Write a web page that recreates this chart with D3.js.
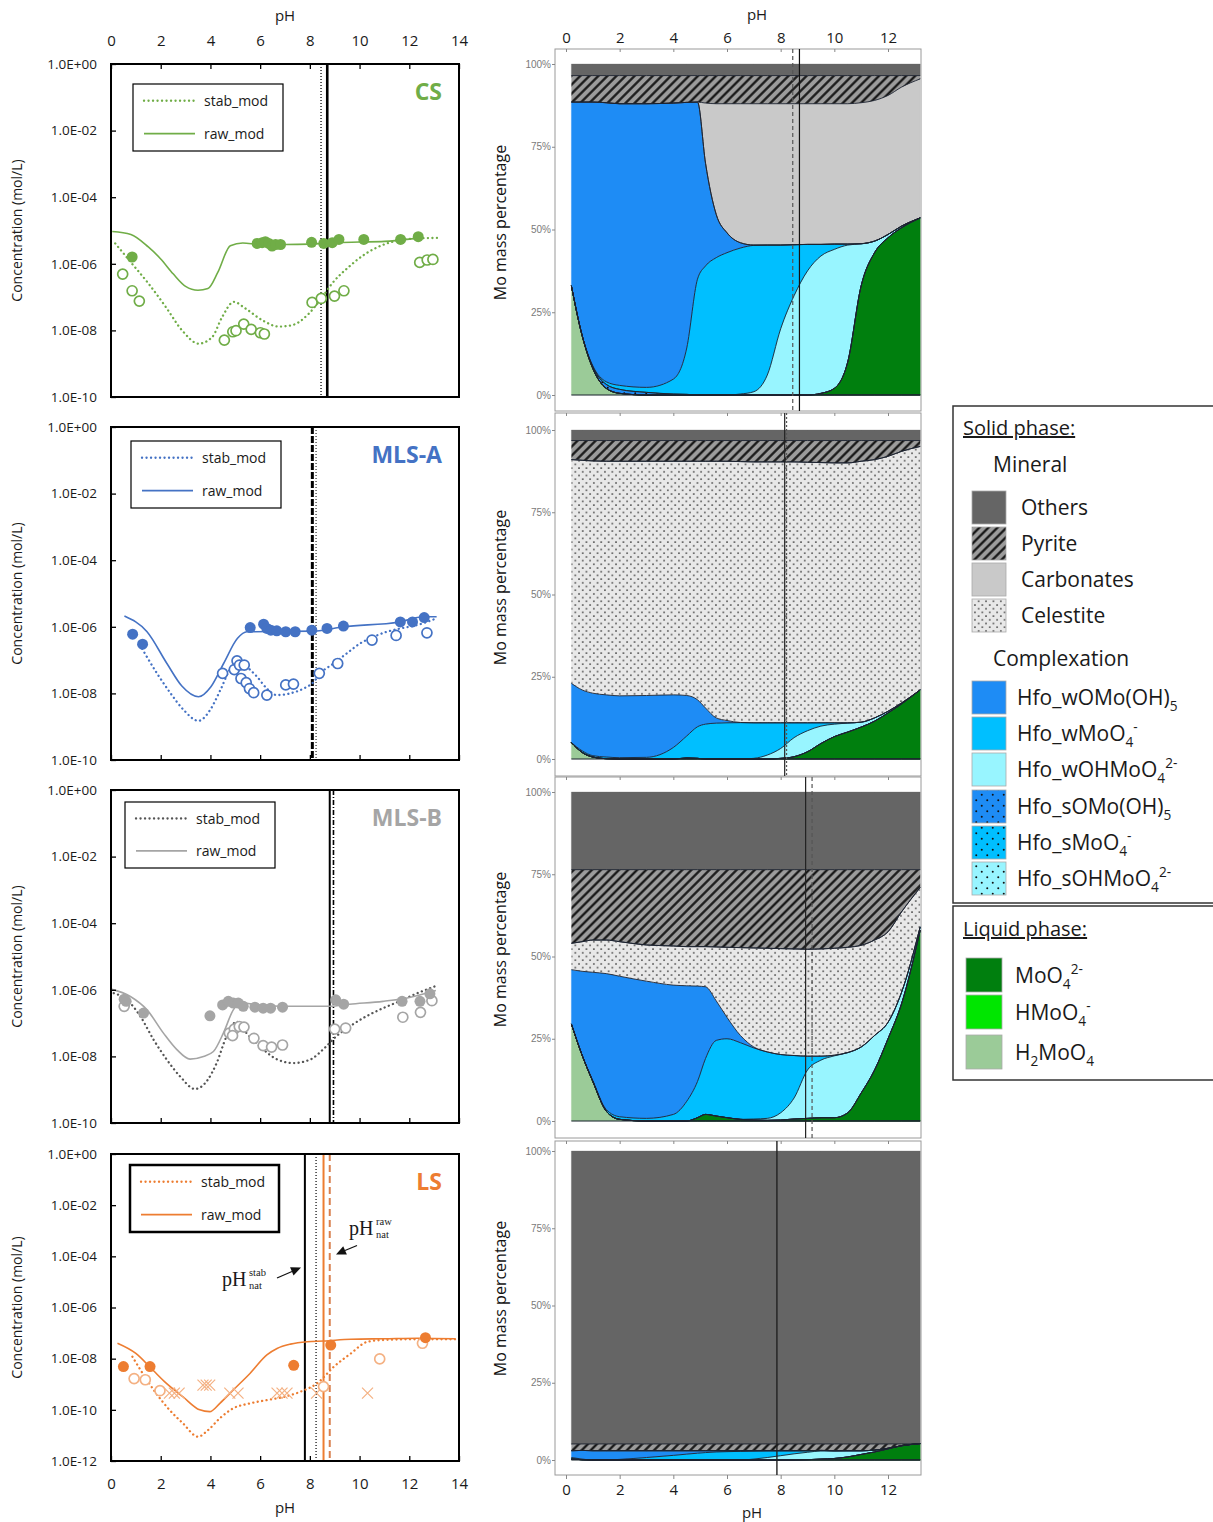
<!DOCTYPE html>
<html><head><meta charset="utf-8">
<script src="https://cdn.jsdelivr.net/npm/d3@7"></script>
<style>body{margin:0;background:#fff;} svg{display:block;font-family:"Open Sans",sans-serif;}</style>
</head><body><svg id="c" width="1213" height="1522"></svg>
<script>
// ================= LEFT PANELS: concentration vs pH ([pH, mol/L]) =================
const csRaw = [[0.05,9.3e-6],[0.8,7.6e-6],[1.5,3.2e-6],[2.0,1.4e-6],[2.5,5.0e-7],[3.0,2.1e-7],[3.5,1.6e-7],[3.9,1.8e-7],[4.3,5.6e-7],[4.8,3.5e-6],[5.3,4.2e-6],[6,3.8e-6],[7,3.8e-6],[8,3.9e-6],[9,4.3e-6],[10,4.5e-6],[11,4.7e-6],[12,5.5e-6],[12.4,6.0e-6]];
const csStab = [[0.17,4.1e-6],[0.85,1.0e-6],[1.5,2.6e-7],[2.2,5.1e-8],[2.86,1.0e-8],[3.53,4.0e-9],[4.07,6.3e-9],[4.47,2.5e-8],[4.94,7.2e-8],[5.4,4.6e-8],[6.1,2.0e-8],[6.75,1.3e-8],[7.3,1.45e-8],[7.96,3.2e-8],[8.5,1.0e-7],[8.9,2.6e-7],[9.57,8.1e-7],[10.24,2.0e-6],[10.9,3.6e-6],[11.6,5.1e-6],[12.25,5.75e-6],[13.26,6.0e-6]];
const csFilled = [[0.85,1.6e-6],[5.88,4.1e-6],[6.08,4.3e-6],[6.21,4.6e-6],[6.35,4.1e-6],[6.48,3.4e-6],[6.62,3.8e-6],[6.82,3.8e-6],[8.07,4.4e-6],[8.56,4.1e-6],[8.9,4.3e-6],[9.17,5.4e-6],[10.17,5.4e-6],[11.65,5.4e-6],[12.36,6.5e-6]];
const csOpen = [[0.47,4.9e-7],[0.85,1.55e-7],[1.14,7.6e-8],[4.56,5.1e-9],[4.9,9.1e-9],[5.03,9.8e-9],[5.34,1.55e-8],[5.64,1.07e-8],[6.01,8.5e-9],[6.17,7.8e-9],[8.09,6.9e-8],[8.46,9.1e-8],[8.99,1.07e-7],[9.37,1.55e-7],[12.42,1.1e-6],[12.72,1.3e-6],[12.95,1.35e-6]];
const csNat = [8.45, 8.7];

const maRaw = [[0.54,2.1e-6],[1.45,7.1e-7],[2.25,7.9e-8],[2.85,1.66e-8],[3.52,7.9e-9],[4.02,1.58e-8],[4.53,7.9e-8],[5.09,4.5e-7],[5.47,7.1e-7],[8.15,7.4e-7],[9.35,1.0e-6],[11.6,1.4e-6],[12.57,2.0e-6],[13.1,2.0e-6]];
const maStab = [[1.25,2.2e-7],[1.85,4.0e-8],[2.4,1.0e-8],[2.92,3.2e-9],[3.52,1.5e-9],[3.99,3.2e-9],[4.4,1.26e-8],[4.8,5.6e-8],[5.13,1.12e-7],[5.47,6.3e-8],[5.87,3.2e-8],[6.27,1.4e-8],[6.67,8.9e-9],[7.2,1.0e-8],[7.75,1.4e-8],[8.15,2.2e-8],[8.42,4.0e-8],[8.95,7.9e-8],[9.49,1.6e-7],[10.03,3.2e-7],[10.56,5.0e-7],[11.1,7.1e-7],[11.64,8.9e-7],[12.3,1.12e-6],[13.1,1.8e-6]];
const maFilled = [[0.87,6.0e-7],[1.27,3.0e-7],[5.6,9.5e-7],[6.14,1.2e-6],[6.27,8.9e-7],[6.43,7.9e-7],[6.67,7.6e-7],[7.03,7.1e-7],[7.41,7.1e-7],[8.08,7.9e-7],[8.69,8.9e-7],[9.35,1.05e-6],[11.64,1.4e-6],[12.13,1.4e-6],[12.6,1.9e-6]];
const maOpen = [[4.49,4.0e-8],[4.96,5.2e-8],[5.07,9.5e-8],[5.17,7.1e-8],[5.36,7.1e-8],[5.23,2.8e-8],[5.44,2.1e-8],[5.57,1.4e-8],[5.74,1.05e-8],[6.27,8.9e-9],[7.03,1.8e-8],[7.34,1.9e-8],[8.38,4.0e-8],[9.12,7.9e-8],[10.5,4.0e-7],[11.47,5.5e-7],[12.71,6.6e-7]];
const maNat = [8.1, 8.25];

const mbRaw = [[0,1.05e-6],[0.78,6.3e-7],[1.45,2.5e-7],[2.11,5.0e-8],[2.65,1.6e-8],[3.18,8.3e-9],[3.72,1.0e-8],[4.12,1.4e-8],[4.52,5.0e-8],[4.92,2.5e-7],[5.19,4.0e-7],[5.99,3.5e-7],[6.93,3.2e-7],[8.26,3.2e-7],[8.8,3.2e-7],[9.6,3.7e-7],[10.94,4.5e-7],[11.87,5.6e-7],[13.07,9.5e-7]];
const mbStab = [[0.11,7.9e-7],[0.64,5.0e-7],[1.18,1.6e-7],[1.71,3.2e-8],[2.25,7.9e-9],[2.78,2.5e-9],[3.38,1.05e-9],[3.85,1.8e-9],[4.25,6.3e-9],[4.65,4.0e-8],[5.05,1.1e-7],[5.45,5.0e-8],[5.99,2.0e-8],[6.66,8.3e-9],[7.33,6.3e-9],[7.99,7.9e-9],[8.66,2.0e-8],[9.06,4.0e-8],[9.6,7.9e-8],[10.27,1.6e-7],[10.94,2.8e-7],[11.6,4.5e-7],[12.27,7.6e-7],[13.07,1.3e-6]];
const mbFilled = [[0.53,5.2e-7],[0.61,4.5e-7],[1.31,2.0e-7],[3.98,1.66e-7],[4.49,3.5e-7],[4.72,4.5e-7],[4.92,4.0e-7],[5.12,4.0e-7],[5.32,3.2e-7],[5.79,3.0e-7],[6.12,2.8e-7],[6.42,2.8e-7],[6.9,3.0e-7],[9.04,5.0e-7],[9.36,3.7e-7],[11.71,4.5e-7],[12.43,4.5e-7],[12.83,7.6e-7]];
const mbOpen = [[0.53,3.2e-7],[4.76,5.0e-8],[4.96,6.6e-8],[5.16,7.9e-8],[5.35,7.6e-8],[4.89,4.2e-8],[5.75,3.5e-8],[6.12,2.1e-8],[6.46,1.9e-8],[6.9,2.2e-8],[9.0,6.6e-8],[9.44,7.1e-8],[11.74,1.5e-7],[12.45,2.1e-7],[12.91,4.7e-7]];
const mbNat = [8.8, 8.95];

const lsRaw = [[0.26,4.0e-8],[1.0,1.6e-8],[1.68,3.6e-9],[2.22,1.1e-9],[2.9,3.2e-10],[3.57,1.0e-10],[3.97,8.5e-11],[4.38,1.8e-10],[4.92,6.0e-10],[5.6,2.7e-9],[6.27,1.4e-8],[6.68,2.5e-8],[7.22,3.7e-8],[7.89,4.6e-8],[8.55,4.9e-8],[9.65,5.75e-8],[11,6.0e-8],[12.35,6.3e-8],[13.84,6.0e-8]];
const lsStab = [[0.86,1.2e-8],[1.27,2.7e-9],[1.81,4.5e-10],[2.35,1.0e-10],[2.89,3.0e-11],[3.5,8.9e-12],[3.9,1.6e-11],[4.38,4.7e-11],[4.92,1.15e-10],[5.6,1.8e-10],[6.27,2.4e-10],[6.95,3.2e-10],[7.62,5.1e-10],[8.3,1.1e-9],[8.97,4.9e-9],[9.65,1.6e-8],[10.32,4.6e-8],[11,5.4e-8],[12.35,5.75e-8],[13.84,5.75e-8]];
const lsFilled = [[0.5,4.9e-9],[1.57,4.9e-9],[7.35,5.5e-9],[8.84,3.4e-8],[12.65,6.6e-8]];
const lsOpen = [[0.93,1.66e-9],[1.38,1.5e-9],[1.97,5.6e-10],[8.55,8.1e-10],[10.81,9.8e-9],[12.53,4.0e-8]];
const lsCross = [[2.35,4.5e-10],[2.55,4.5e-10],[2.74,4.5e-10],[3.7,9.3e-10],[3.83,9.3e-10],[3.97,9.3e-10],[4.78,4.5e-10],[5.11,4.5e-10],[6.68,4.5e-10],[6.88,4.5e-10],[7.08,4.5e-10],[8.27,4.5e-10],[10.32,4.5e-10]];
const lsNat = [7.8, 8.25, 8.55, 8.8];

const leftXTicks = [0,2,4,6,8,10,12,14];
const yExpTicks10 = [0,-2,-4,-6,-8,-10];
const yExpTicks12 = [0,-2,-4,-6,-8,-10,-12];

// ================= RIGHT PANELS: Mo mass percentage (stack, %) =================
const phGrid = [0.2,0.6,1,1.5,2,3,4,4.5,4.9,5.2,5.6,6,6.5,7,7.5,8,8.5,9,9.5,10,10.5,11,11.5,12,12.5,13.2];
const layerKeys = ['H2MoO4','HMoO4','MoO4','sOHMoO4','sMoO4','sOMo','wOHMoO4','wMoO4','wOMo','Celestite','Carbonates','Pyrite','Others'];

const csH2MoO4 = [33,18,8,2,0.5,0,0,0,0,0,0,0,0,0,0,0,0,0,0,0,0,0,0,0,0,0];
const csMoO4 = [0,0,0,0,0,0,0,0,0,0,0,0,0,0,0,0,0,0,0.5,2,10,33,43,47.5,50.5,53.5];
const csSOMo = [0,0,0.5,1.2,1.2,0.8,0.3,0.2,0,0,0,0,0,0,0,0,0,0,0,0,0,0,0,0,0,0];
const csWOHMoO4 = [0,0,0,0,0,0,0,0,0,0,0,0,0.3,1,6,20,30,37.5,41.5,42,35.3,12.7,3.5,1,0.5,0];
const csWMoO4 = [0,0,0.3,0.8,1.2,1.5,4.5,14,35,39,41.5,43,44.1,44.2,39.3,25.3,15.4,8,3.5,1.6,0.3,0,0,0,0,0];
const csWOMo = [55.5,70.5,79.7,84.3,85.1,85.7,83.4,74.2,53.5,31,13,6,1.6,0.1,0,0,0,0,0,0,0,0,0,0,0,0];
const csCarbonates = [0,0,0,0,0,0,0,0,0,18.2,33.5,39,42,42.7,42.7,42.7,42.6,42.5,42.5,42.4,42.4,42.6,42.5,42,42,42];
const csPyrite = [8,8,8,8.2,8.5,8.5,8.3,8.1,8,8.3,8.5,8.5,8.5,8.5,8.5,8.5,8.5,8.5,8.5,8.5,8.5,8.2,7.5,6,3.5,1];
const csOthers = [3.5,3.5,3.5,3.5,3.5,3.5,3.5,3.5,3.5,3.5,3.5,3.5,3.5,3.5,3.5,3.5,3.5,3.5,3.5,3.5,3.5,3.5,3.5,3.5,3.5,3.5];

const maH2MoO4 = [5,2,0.6,0.1,0,0,0,0,0,0,0,0,0,0,0,0,0,0,0,0,0,0,0,0,0,0];
const maMoO4 = [0,0,0,0,0,0,0,0.3,0.2,0,0,0,0,0,0,0.2,0.7,2.2,4.7,6.8,8.2,9.7,11.5,14,16.7,21];
const maWOHMoO4 = [0,0,0,0,0,0,0,0,0,0,0,0,0,0.2,1.2,3.0,5.8,6.4,5.3,3.8,2.7,1.5,1,0.5,0.3,0];
const maWMoO4 = [0,0.5,0.4,0.5,0.4,0.5,3.5,6.7,9.6,10.6,10.9,11.0,11.05,10.8,9.8,7.8,4.5,2.4,1,0.4,0.1,0,0,0,0,0];
const maWOMo = [18,18.5,19,18.9,18.8,18.8,16,12.3,8.2,4.9,1.6,0.7,0.05,0,0,0,0,0,0,0,0,0,0,0,0,0];
const maCelestite = [68,69.8,70.6,71,71.3,71.2,71,71.2,72.5,75,78,78.8,79.3,79.3,79.3,79.3,79.3,79.2,79.1,79,79,79.3,78.5,77.5,76.5,74];
const maPyrite = [5.8,6,6.2,6.3,6.3,6.3,6.3,6.3,6.3,6.3,6.3,6.3,6.4,6.5,6.5,6.5,6.5,6.6,6.7,6.8,6.8,6.3,5.8,4.8,3.3,1.8];
const maOthers = [3.2,3.2,3.2,3.2,3.2,3.2,3.2,3.2,3.2,3.2,3.2,3.2,3.2,3.2,3.2,3.2,3.2,3.2,3.2,3.2,3.2,3.2,3.2,3.2,3.2,3.2];

const mbH2MoO4 = [29.5,20,12,3,0.5,0,0,0,0,0,0,0,0,0,0,0,0,0,0,0,0,0,0,0,0,0];
const mbMoO4 = [0,0,0,0,0,0,0,0,1,2,1.5,1,0.5,0.3,0.2,0.3,0.6,0.8,1,1,2.5,8.5,15.5,25,35.5,58];
const mbWOHMoO4 = [0,0,0,0,0,0,0,0,0,0,0,0,0,0.3,0.6,2.2,6.4,14.7,17.5,18.8,18.3,14,10.5,5,3.5,1];
const mbWMoO4 = [0,0,0.3,0.5,0.8,0.8,2,6,11,17,23,24,23.3,21.6,20.2,17.7,12.9,4.2,1.2,0.2,0,0,0,0,0,0];
const mbWOMo = [16.5,25.5,32.9,41.3,42.7,41.7,39.3,35.1,29,21.8,12,6.5,2.2,0.3,0,0,0,0,0,0,0,0,0,0,0,0];
const mbCelestite = [8,9,9.8,10.2,10.5,11,11.9,11.9,12,12.2,16.4,21.3,26.7,30.1,31.5,32.2,32.4,32.5,32.6,32.5,32,30.9,29,27.5,24.5,12];
const mbPyrite = [22.4,21.9,21.4,21.4,21.9,22.9,23.2,23.4,23.4,23.4,23.5,23.6,23.7,23.8,23.9,24,24.1,24.2,24.1,23.9,23.6,23,21.4,18.9,12.9,5.4];
const mbOthers = [23.6,23.6,23.6,23.6,23.6,23.6,23.6,23.6,23.6,23.6,23.6,23.6,23.6,23.6,23.6,23.6,23.6,23.6,23.6,23.6,23.6,23.6,23.6,23.6,23.6,23.6];

const lsH2MoO4 = [0.3,0.1,0,0,0,0,0,0,0,0,0,0,0,0,0,0,0,0,0,0,0,0,0,0,0,0];
const lsMoO4 = [0,0,0,0,0,0,0,0,0,0,0,0,0,0,0,0,0,0.1,0.3,0.5,1,1.8,2.6,3.6,4.6,5.3];
const lsWOHMoO4 = [0,0,0,0,0,0,0,0,0,0,0,0,0,0.3,0.8,1.4,2,2.4,2.6,2.4,2,1.2,0.6,0.2,0,0];
const lsWMoO4 = [0.5,0.2,0,0,0.2,0.8,1.5,1.9,2.2,2.4,2.6,2.7,2.8,2.6,2.2,1.6,1,0.5,0.2,0.1,0,0,0,0,0,0];
const lsWOMo = [2.2,2.8,3,3,2.8,2.2,1.5,1.1,0.8,0.6,0.4,0.3,0.2,0.1,0,0,0,0,0,0,0,0,0,0,0,0];
const lsPyrite = [2.2,2.1,2.2,2.2,2.2,2.2,2.2,2.2,2.2,2.2,2.2,2.2,2.2,2.2,2.2,2.2,2.2,2.2,2.1,2.2,2.2,2.2,2,1.4,0.6,0];
const lsOthers = [94.8,94.8,94.8,94.8,94.8,94.8,94.8,94.8,94.8,94.8,94.8,94.8,94.8,94.8,94.8,94.8,94.8,94.8,94.8,94.8,94.8,94.8,94.8,94.8,94.8,94.7];

const rightNatCS = [8.45, 8.7];
const rightNatMA = [8.15, 8.22];
const rightNatMB = [8.93, 9.17];
const rightNatLS = [7.86];
const rightXTicks = [0,2,4,6,8,10,12];
const pctTicks = [0,25,50,75,100];

// ================= DRAW =================
const svg = d3.select('#c');
const defs = svg.append('defs');
const FONT = '"Open Sans", sans-serif';

function hatch(id, bg, gap, w) {
  const p = defs.append('pattern').attr('id', id).attr('patternUnits','userSpaceOnUse')
    .attr('width', gap).attr('height', gap).attr('patternTransform','rotate(45)');
  p.append('rect').attr('width', gap).attr('height', gap).attr('fill', bg);
  p.append('line').attr('x1', gap/2).attr('x2', gap/2).attr('y1', 0).attr('y2', gap)
    .attr('stroke','#111').attr('stroke-width', w);
}
function dots(id, bg, s, r) {
  const p = defs.append('pattern').attr('id', id).attr('patternUnits','userSpaceOnUse')
    .attr('width', s).attr('height', s);
  p.append('rect').attr('width', s).attr('height', s).attr('fill', bg);
  p.append('circle').attr('cx', s*0.25).attr('cy', s*0.25).attr('r', r).attr('fill','#111');
  p.append('circle').attr('cx', s*0.75).attr('cy', s*0.75).attr('r', r).attr('fill','#111');
}
hatch('pyr', '#9c9c9c', 6.4, 2.2);
dots('cel', '#e8e8e8', 7.4, 0.8);
dots('sOMoP', '#1E8CF5', 11, 1.0);
dots('sMoO4P', '#00BFFF', 11, 1.0);
dots('sOHP', '#98F5FF', 11, 1.0);

const layerFill = {
  H2MoO4:'#9BCB98', HMoO4:'#00E600', MoO4:'#007F0E', sOHMoO4:'url(#sOHP)', sMoO4:'url(#sMoO4P)', sOMo:'url(#sOMoP)',
  wOHMoO4:'#98F5FF', wMoO4:'#00BFFF', wOMo:'#1E8CF5', Celestite:'url(#cel)', Carbonates:'#C9C9C9', Pyrite:'url(#pyr)', Others:'#656565'
};

// ---------- left panels ----------
const X = d3.scaleLinear().domain([0,14]).range([111,459]);
const fmtE = e => '1.0E' + (e < 0 ? '-' : '+') + String(Math.abs(e)).padStart(2,'0');

const leftPanels = [
  {name:'CS', color:'#70AD47', stabColor:'#70AD47', openColor:'#70AD47', top:64, bottom:397, minExp:-10, yTicks:yExpTicks10,
   raw:csRaw, stab:csStab, filled:csFilled, open:csOpen, cross:null, nat:csNat,
   natStyles:[{c:'#333',w:1.6,d:'1 2'},{c:'#000',w:2.6}],
   leg:{x:133,y:84,w:150,h:67,bw:1.2}, axis:'top'},
  {name:'MLS-A', color:'#4472C4', stabColor:'#4472C4', openColor:'#4472C4', top:427, bottom:760, minExp:-10, yTicks:yExpTicks10,
   raw:maRaw, stab:maStab, filled:maFilled, open:maOpen, cross:null, nat:maNat,
   natStyles:[{c:'#000',w:3,d:'7 2'},{c:'#555',w:1.5,d:'1 2'}],
   leg:{x:131,y:441,w:150,h:67,bw:1.2}, axis:'bottomTicks'},
  {name:'MLS-B', color:'#A5A5A5', stabColor:'#555555', openColor:'#A5A5A5', top:790, bottom:1123, minExp:-10, yTicks:yExpTicks10,
   raw:mbRaw, stab:mbStab, filled:mbFilled, open:mbOpen, cross:null, nat:mbNat,
   natStyles:[{c:'#000',w:2},{c:'#000',w:1.6,d:'5 2 1 2'}],
   leg:{x:125,y:802,w:150,h:66,bw:1.2}, axis:'bottomTicks'},
  {name:'LS', color:'#ED7D31', stabColor:'#ED7D31', openColor:'#F4B183', top:1154, bottom:1461, minExp:-12, yTicks:yExpTicks12,
   raw:lsRaw, stab:lsStab, filled:lsFilled, open:lsOpen, cross:lsCross, nat:lsNat,
   natStyles:[{c:'#000',w:2},{c:'#333',w:1.5,d:'1 2'},{c:'#ED7D31',w:2},{c:'#D9804F',w:2,d:'7 4'}],
   leg:{x:130,y:1165,w:149,h:67,bw:2.5}, axis:'bottom'}
];

leftPanels.forEach(p => {
  const Y = d3.scaleLog().domain([Math.pow(10,p.minExp), 1]).range([p.bottom, p.top]);
  const g = svg.append('g');
  const clipId = 'clip' + p.name.replace('-','');
  defs.append('clipPath').attr('id', clipId).append('rect')
    .attr('x', X(0)).attr('y', p.top).attr('width', X(14)-X(0)).attr('height', p.bottom-p.top);
  const pg = g.append('g').attr('clip-path', `url(#${clipId})`);

  p.nat.forEach((v,i) => {
    const s = p.natStyles[i];
    pg.append('line').attr('x1', X(v)).attr('x2', X(v)).attr('y1', p.top).attr('y2', p.bottom)
      .attr('stroke', s.c).attr('stroke-width', s.w).attr('stroke-dasharray', s.d || null);
  });

  const line = d3.line().x(d => X(d[0])).y(d => Y(d[1])).curve(d3.curveMonotoneX);
  pg.append('path').attr('d', line(p.stab)).attr('fill','none').attr('stroke', p.stabColor)
    .attr('stroke-width', 2.3).attr('stroke-dasharray','0.1 4.4').attr('stroke-linecap','round');
  pg.append('path').attr('d', line(p.raw)).attr('fill','none').attr('stroke', p.color).attr('stroke-width', 1.6);

  if (p.cross) {
    pg.selectAll('path.cross').data(p.cross).enter().append('path').attr('class','cross')
      .attr('d', d => { const cx = X(d[0]), cy = Y(d[1]), r = 5.5;
        return `M${cx-r},${cy-r}L${cx+r},${cy+r}M${cx-r},${cy+r}L${cx+r},${cy-r}`; })
      .attr('stroke', '#F4B183').attr('stroke-width', 1.2).attr('fill','none');
  }
  pg.selectAll('circle.open').data(p.open).enter().append('circle').attr('class','open')
    .attr('cx', d => X(d[0])).attr('cy', d => Y(d[1])).attr('r', 5)
    .attr('fill','#fff').attr('stroke', p.openColor).attr('stroke-width', 1.7);
  pg.selectAll('circle.filled').data(p.filled).enter().append('circle').attr('class','filled')
    .attr('cx', d => X(d[0])).attr('cy', d => Y(d[1])).attr('r', 5.5)
    .attr('fill', p.color);

  const ya = d3.axisLeft(Y).tickValues(p.yTicks.map(e => Math.pow(10,e))).tickFormat(d => fmtE(Math.round(Math.log10(d))))
    .tickSizeInner(-5).tickSizeOuter(0).tickPadding(14);
  const yg = g.append('g').attr('transform', `translate(${X(0)},0)`).call(ya);
  yg.select('.domain').remove();
  yg.selectAll('line').attr('stroke','#000').attr('stroke-width',1.3);
  yg.selectAll('text').attr('font-family', FONT).attr('font-size', 13.5).attr('fill','#1a1a1a');

  if (p.axis === 'top') {
    const xa = d3.axisTop(X).tickValues(leftXTicks).tickSizeInner(-5).tickSizeOuter(0).tickPadding(18);
    const xg = g.append('g').attr('transform', `translate(0,${p.top})`).call(xa);
    xg.select('.domain').remove();
    xg.selectAll('line').attr('stroke','#000').attr('stroke-width',1.3);
    xg.selectAll('text').attr('font-family', FONT).attr('font-size', 15).attr('fill','#1a1a1a');
    g.append('text').attr('x', X(7)).attr('y', 21).attr('text-anchor','middle')
      .attr('font-family', FONT).attr('font-size', 15).attr('fill','#1a1a1a').text('pH');
  } else {
    const xa = d3.axisBottom(X).tickValues(leftXTicks).tickSizeInner(-5).tickSizeOuter(0).tickPadding(17)
      .tickFormat(p.axis === 'bottom' ? d3.format('d') : () => '');
    const xg = g.append('g').attr('transform', `translate(0,${p.bottom})`).call(xa);
    xg.select('.domain').remove();
    xg.selectAll('line').attr('stroke','#000').attr('stroke-width',1.3);
    xg.selectAll('text').attr('font-family', FONT).attr('font-size', 15).attr('fill','#1a1a1a');
    if (p.axis === 'bottom') {
      g.append('text').attr('x', X(7)).attr('y', p.bottom + 52).attr('text-anchor','middle')
        .attr('font-family', FONT).attr('font-size', 15).attr('fill','#1a1a1a').text('pH');
    }
  }

  g.append('rect').attr('x', X(0)).attr('y', p.top).attr('width', X(14)-X(0)).attr('height', p.bottom-p.top)
    .attr('fill','none').attr('stroke','#000').attr('stroke-width', 2);

  const cy = (p.top + p.bottom) / 2;
  g.append('text').attr('transform', `translate(22,${cy}) rotate(-90)`).attr('text-anchor','middle')
    .attr('font-family', FONT).attr('font-size', 14).attr('fill','#1a1a1a').text('Concentration (mol/L)');

  g.append('text').attr('x', 442).attr('y', p.top + 36).attr('text-anchor','end')
    .attr('font-family', FONT).attr('font-weight', 700).attr('font-size', 23)
    .attr('fill', p.color).text(p.name);

  const L = p.leg;
  const lg = g.append('g');
  lg.append('rect').attr('x', L.x).attr('y', L.y).attr('width', L.w).attr('height', L.h)
    .attr('fill','#fff').attr('stroke','#000').attr('stroke-width', L.bw);
  const r1 = L.y + L.h*0.25, r2 = L.y + L.h*0.74;
  lg.append('line').attr('x1', L.x+11).attr('x2', L.x+62).attr('y1', r1).attr('y2', r1)
    .attr('stroke', p.stabColor).attr('stroke-width', 2.3).attr('stroke-dasharray','0.1 4.4').attr('stroke-linecap','round');
  lg.append('line').attr('x1', L.x+11).attr('x2', L.x+62).attr('y1', r2).attr('y2', r2)
    .attr('stroke', p.color).attr('stroke-width', 1.6);
  lg.append('text').attr('x', L.x+71).attr('y', r1+5).attr('font-family', FONT).attr('font-size', 14).attr('fill','#1a1a1a').text('stab_mod');
  lg.append('text').attr('x', L.x+71).attr('y', r2+5).attr('font-family', FONT).attr('font-size', 14).attr('fill','#1a1a1a').text('raw_mod');
});

// sub/superscript helper
function rich(sel, parts, fs) {
  let cur = 0;
  parts.forEach(([t,k]) => {
    const target = k === 1 ? fs*0.3 : k === 2 ? -fs*0.45 : 0;
    sel.append('tspan').attr('dy', target - cur).attr('font-size', k ? fs*0.65 : fs).text(t);
    cur = target;
  });
}

// annotations (LS panel)
const ann = svg.append('g').attr('font-family','"Liberation Serif", "DejaVu Serif", serif').attr('fill','#1a1a1a');
function stackedLabel(x, y, sup, sub) {
  const t = ann.append('text').attr('x', x).attr('y', y).attr('font-size', 20);
  t.append('tspan').text('pH');
  t.append('tspan').attr('x', x + 27).attr('dy', -10).attr('font-size', 10.5).text(sup);
  t.append('tspan').attr('x', x + 27).attr('dy', 13).attr('font-size', 10.5).text(sub);
}
stackedLabel(222, 1286, 'stab', 'nat');
stackedLabel(349, 1235, 'raw', 'nat');
ann.append('line').attr('x1',277).attr('y1',1278).attr('x2',292).attr('y2',1271.5).attr('stroke','#111').attr('stroke-width',1.3);
ann.append('path').attr('d','M301,1267.5L293.5,1275.5L290.1,1267.2Z').attr('fill','#111');
ann.append('line').attr('x1',357).attr('y1',1245.5).attr('x2',345).attr('y2',1250.5).attr('stroke','#111').attr('stroke-width',1.3);
ann.append('path').attr('d','M336,1254.5L346.9,1254.5L343.2,1246.3Z').attr('fill','#111');

// ---------- right panels ----------
const XR = d3.scaleLinear().domain([0,12]).range([566, 888]);
const rightPanels = [
  {frame:[49,411], y0:395, y100:64, nat:rightNatCS, natStyles:[{c:'#555',w:1.2,d:'4 3'},{c:'#111',w:1.2}], axis:'top',
   layers:{H2MoO4:csH2MoO4, MoO4:csMoO4, sOMo:csSOMo, wOHMoO4:csWOHMoO4, wMoO4:csWMoO4, wOMo:csWOMo, Carbonates:csCarbonates, Pyrite:csPyrite, Others:csOthers}},
  {frame:[413,776], y0:759, y100:430, nat:rightNatMA, natStyles:[{c:'#222',w:1.2},{c:'#555',w:1.2,d:'2 2'}], axis:'none',
   layers:{H2MoO4:maH2MoO4, MoO4:maMoO4, wOHMoO4:maWOHMoO4, wMoO4:maWMoO4, wOMo:maWOMo, Celestite:maCelestite, Pyrite:maPyrite, Others:maOthers}},
  {frame:[777,1138], y0:1121, y100:792, nat:rightNatMB, natStyles:[{c:'#222',w:1.2},{c:'#555',w:1.2,d:'4 3'}], axis:'none',
   layers:{H2MoO4:mbH2MoO4, MoO4:mbMoO4, wOHMoO4:mbWOHMoO4, wMoO4:mbWMoO4, wOMo:mbWOMo, Celestite:mbCelestite, Pyrite:mbPyrite, Others:mbOthers}},
  {frame:[1141,1475], y0:1460, y100:1151, nat:rightNatLS, natStyles:[{c:'#222',w:1.4}], axis:'bottom',
   layers:{H2MoO4:lsH2MoO4, MoO4:lsMoO4, wOHMoO4:lsWOHMoO4, wMoO4:lsWMoO4, wOMo:lsWOMo, Pyrite:lsPyrite, Others:lsOthers}}
];
const zeros = phGrid.map(() => 0);

rightPanels.forEach(p => {
  const YR = d3.scaleLinear().domain([0,100]).range([p.y0, p.y100]);
  const g = svg.append('g');
  const [ft, fb] = p.frame;
  g.append('rect').attr('x', 555).attr('y', ft).attr('width', 366).attr('height', fb-ft)
    .attr('fill','#fff').attr('stroke','#9a9a9a').attr('stroke-width', 1);

  const rows = phGrid.map((ph, i) => {
    const r = {pH: ph};
    layerKeys.forEach(k => { r[k] = (p.layers[k] || zeros)[i]; });
    return r;
  });
  const series = d3.stack().keys(layerKeys)(rows);
  const area = d3.area().x(d => XR(d.data.pH)).y0(d => YR(d[0])).y1(d => YR(d[1])).curve(d3.curveMonotoneX);
  const edge = d3.line().x(d => XR(d.data.pH)).y(d => YR(d[1])).curve(d3.curveMonotoneX);
  g.selectAll('path.layer').data(series).enter().append('path').attr('class','layer')
    .attr('d', area).attr('fill', s => layerFill[s.key]).attr('stroke', s => layerFill[s.key].startsWith('url') ? 'none' : layerFill[s.key]).attr('stroke-width', 0.3);
  g.selectAll('path.edge').data(series.filter(s => s.key !== 'Others')).enter().append('path').attr('class','edge')
    .attr('d', edge).attr('fill','none').attr('stroke','#1c2230').attr('stroke-width', 0.9);
  g.append('path').attr('d', d3.line().x(d => XR(d)).y(() => YR(0))(d3.extent(phGrid)))
    .attr('stroke','#1c2230').attr('stroke-width', 1.2);

  p.nat.forEach((v, i) => {
    const s = p.natStyles[i];
    g.append('line').attr('x1', XR(v)).attr('x2', XR(v)).attr('y1', ft).attr('y2', fb)
      .attr('stroke', s.c).attr('stroke-width', s.w).attr('stroke-dasharray', s.d || null);
  });

  const ya = d3.axisLeft(YR).tickValues(pctTicks).tickFormat(d => d + '%').tickSize(3).tickPadding(1);
  const yg = g.append('g').attr('transform', 'translate(555,0)').call(ya);
  yg.select('.domain').remove();
  yg.selectAll('line').attr('stroke','#888');
  yg.selectAll('text').attr('font-family', '"Liberation Sans", Arial, sans-serif').attr('font-size', 10).attr('fill','#7a7a7a');

  const tg = g.append('g').attr('transform', `translate(0,${ft})`)
    .call(d3.axisTop(XR).tickValues(rightXTicks).tickSizeInner(-3).tickSizeOuter(0).tickPadding(p.axis === 'top' ? 6 : 0)
      .tickFormat(p.axis === 'top' ? d3.format('d') : () => ''));
  tg.select('.domain').remove();
  tg.selectAll('line').attr('stroke','#888');
  tg.selectAll('text').attr('font-family', FONT).attr('font-size', 15).attr('fill','#1a1a1a');
  if (p.axis === 'top') {
    g.append('text').attr('x', 757).attr('y', 20).attr('text-anchor','middle')
      .attr('font-family', FONT).attr('font-size', 15).attr('fill','#1a1a1a').text('pH');
  }
  if (p.axis === 'bottom') {
    const bg = g.append('g').attr('transform', `translate(0,${fb})`)
      .call(d3.axisBottom(XR).tickValues(rightXTicks).tickSizeInner(4).tickSizeOuter(0).tickPadding(5).tickFormat(d3.format('d')));
    bg.select('.domain').remove();
    bg.selectAll('line').attr('stroke','#888');
    bg.selectAll('text').attr('font-family', FONT).attr('font-size', 15).attr('fill','#1a1a1a');
    g.append('text').attr('x', 752).attr('y', 1518).attr('text-anchor','middle')
      .attr('font-family', FONT).attr('font-size', 15).attr('fill','#1a1a1a').text('pH');
  }

  g.append('text').attr('transform', `translate(506,${YR(50) - 7}) rotate(-90)`).attr('text-anchor','middle')
    .attr('font-family', FONT).attr('font-size', 16).attr('fill','#111').text('Mo mass percentage');
});

// ---------- legend ----------
const solidItems = [
  {fill: layerFill.Others, parts: [['Others',0]], y: 491, tx: 1021},
  {fill: layerFill.Pyrite, parts: [['Pyrite',0]], y: 527, tx: 1021},
  {fill: layerFill.Carbonates, parts: [['Carbonates',0]], y: 563, tx: 1021},
  {fill: layerFill.Celestite, parts: [['Celestite',0]], y: 599, tx: 1021},
  {fill: layerFill.wOMo, parts: [['Hfo_wOMo(OH)',0],['5',1]], y: 681, tx: 1017},
  {fill: layerFill.wMoO4, parts: [['Hfo_wMoO',0],['4',1],['-',2]], y: 717, tx: 1017},
  {fill: layerFill.wOHMoO4, parts: [['Hfo_wOHMoO',0],['4',1],['2-',2]], y: 753, tx: 1017},
  {fill: layerFill.sOMo, parts: [['Hfo_sOMo(OH)',0],['5',1]], y: 790, tx: 1017},
  {fill: layerFill.sMoO4, parts: [['Hfo_sMoO',0],['4',1],['-',2]], y: 826, tx: 1017},
  {fill: layerFill.sOHMoO4, parts: [['Hfo_sOHMoO',0],['4',1],['2-',2]], y: 862, tx: 1017}
];
const liquidItems = [
  {fill: layerFill.MoO4, parts: [['MoO',0],['4',1],['2-',2]], y: 958},
  {fill: layerFill.HMoO4, parts: [['HMoO',0],['4',1],['-',2]], y: 995},
  {fill: layerFill.H2MoO4, parts: [['H',0],['2',1],['MoO',0],['4',1]], y: 1035}
];
const lg = svg.append('g').attr('font-family', FONT).attr('fill','#1a1a1a');
lg.append('rect').attr('x', 953).attr('y', 406).attr('width', 270).attr('height', 497).attr('fill','#fff').attr('stroke','#333').attr('stroke-width', 1.5);
lg.append('rect').attr('x', 953).attr('y', 906).attr('width', 270).attr('height', 174).attr('fill','#fff').attr('stroke','#333').attr('stroke-width', 1.5);
lg.append('text').attr('x', 963).attr('y', 435).attr('font-size', 20).attr('text-decoration','underline').text('Solid phase:');
lg.append('text').attr('x', 993).attr('y', 472).attr('font-size', 21).text('Mineral');
lg.append('text').attr('x', 993).attr('y', 666).attr('font-size', 21).text('Complexation');
lg.append('text').attr('x', 963).attr('y', 936).attr('font-size', 20).attr('text-decoration','underline').text('Liquid phase:');
solidItems.forEach(it => {
  lg.append('rect').attr('x', 972).attr('y', it.y).attr('width', 34).attr('height', 33).attr('fill', it.fill).attr('stroke','#aaa').attr('stroke-width', 0.8);
  const t = lg.append('text').attr('x', it.tx).attr('y', it.y + 24).attr('font-size', 21);
  rich(t, it.parts, 21);
});
liquidItems.forEach(it => {
  lg.append('rect').attr('x', 966).attr('y', it.y).attr('width', 36).attr('height', 34).attr('fill', it.fill).attr('stroke','#aaa').attr('stroke-width', 0.8);
  const t = lg.append('text').attr('x', 1015).attr('y', it.y + 25).attr('font-size', 21);
  rich(t, it.parts, 21);
});
</script></body></html>
